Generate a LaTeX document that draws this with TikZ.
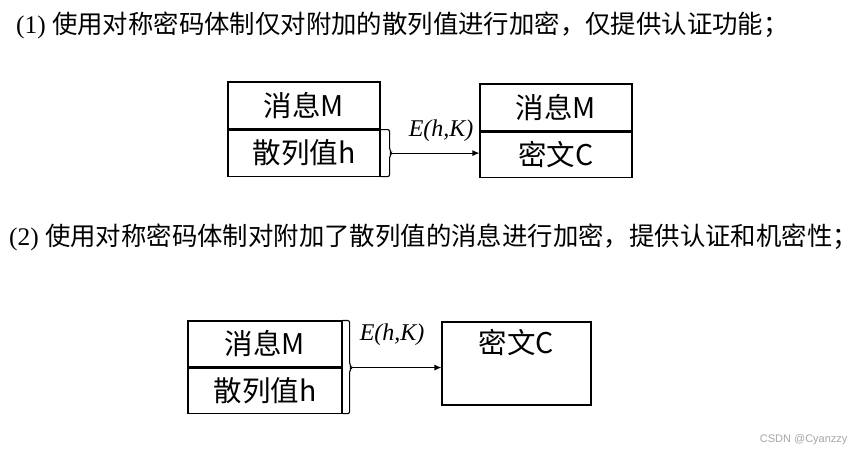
\documentclass[tikz,border=0pt]{standalone}
\usepackage{fontspec}
\setmainfont{Liberation Serif}
\newfontfamily\cjk{Noto Sans CJK SC}
\newfontfamily\wmfont{Liberation Sans}
\usetikzlibrary{positioning,arrows.meta}

\tikzset{
  cell/.style={draw, line width=1.1pt, minimum width=152pt, inner sep=0pt, font=\cjk\fontsize{28.5}{32}\selectfont},
  elabel/.style={inner sep=0pt, font=\itshape\fontsize{24}{28}\selectfont},
  title/.style={anchor=west, inner sep=0pt, font=\fontsize{25.4}{30}\selectfont},
  link/.style={line width=1.1pt, -{Latex[length=7pt,width=6pt]}},
  bracket/.style={line width=1.1pt, rounded corners=2pt},
}

\begin{document}
\begin{tikzpicture}[x=1pt,y=-1pt]
\useasboundingbox (0,0) rectangle (865,455);

\node (t1) [title] at (16,25) {(1) {\cjk 使用对称密码体制仅对附加的散列值进行加密，仅提供认证功能；}};
\node (m1) [cell, minimum height=47pt] at (304,105.5) {消息M};
\node (h1) [cell, minimum height=46pt, below=0pt of m1] {散列值h};
\node (cm1) [cell, minimum height=47pt] at (556,107.5) {消息M};
\node (c1) [cell, minimum height=45pt, below=0pt of cm1] {密文C};
\coordinate (b1) at ([xshift=11pt]h1.east);
\draw [bracket] (h1.north east) -| ([xshift=-2pt,yshift=3pt]b1) -- (b1) -- ([xshift=-2pt,yshift=-3pt]b1) |- (h1.south east);
\draw [link] (b1) -- (c1.west |- b1);
\node (e1) [elabel, above right=11pt and 17pt of b1] {E(h,K)};

\node (t2) [title] at (9,237) {(2) {\cjk 使用对称密码体制对附加了散列值的消息进行加密，提供认证和机密性；}};
\node (m2) [cell, minimum width=154pt, minimum height=46pt] at (265,344) {消息M};
\node (h2) [cell, minimum width=154pt, minimum height=45pt, below=0pt of m2] {散列值h};
\node (c2) [draw, line width=1.1pt, minimum width=149pt, minimum height=83pt] at (516.5,363.5) {};
\node (c2t) [cell, draw=none, minimum width=0pt, below=7pt of c2.north] {密文C};
\coordinate (b2) at ([xshift=9pt]m2.south east);
\draw [bracket] (m2.north east) -| ([xshift=-2pt,yshift=3pt]b2) -- (b2) -- ([xshift=-2pt,yshift=-3pt]b2) |- (h2.south east);
\draw [link] (b2) -- (c2.west |- b2);
\node (e2) [elabel, above right=22pt and 8pt of b2] {E(h,K)};

\node (wm) [anchor=east, font=\wmfont\fontsize{11}{13}\selectfont, text=gray!70] at (851,440) {CSDN @Cyanzzy};
\end{tikzpicture}
\end{document}
